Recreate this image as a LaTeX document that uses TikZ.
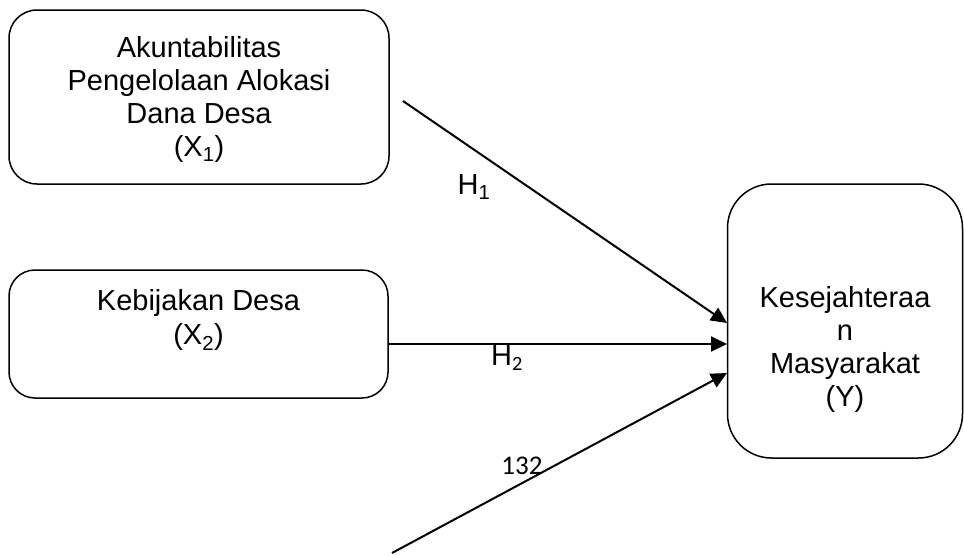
\documentclass[tikz,border=0pt]{standalone}
\usepackage{fontspec}
\setmainfont{Liberation Sans}
\newfontfamily\carl{Carlito}
\usetikzlibrary{arrows.meta}
\begin{document}
\begin{tikzpicture}[x=1pt,y=-1pt,
  box/.style={draw, line width=1.5pt, rounded corners=#1, inner sep=0, outer sep=0},
  txt/.style={font=\fontsize{29}{33}\selectfont, align=center, inner sep=0},
  hlbl/.style={font=\fontsize{29}{33}\selectfont, inner sep=0},
  arr/.style={line width=2pt, -{Triangle[length=16pt,width=15pt]}}]
\useasboundingbox (0,0) rectangle (964,555);
% boxes
\node[box=28pt, minimum width=380pt, minimum height=174pt] (X1) at (199,97) {};
\node[box=26pt, minimum width=379pt, minimum height=128pt] (X2) at (198.5,334) {};
\node[box=44pt, minimum width=235pt, minimum height=274pt] (Y) at (845,321) {};
% texts
\node[txt] (t1) at (199,99) {Akuntabilitas\\Pengelolaan Alokasi\\Dana Desa\\(X\textsubscript{1})};
\node[txt] (t2) at (198.5,320) {Kebijakan Desa\\[1pt](X\textsubscript{2})};
\node[txt] (t3) at (845,349) {Kesejahteraa\\n\\Masyarakat\\(Y)};
% arrow coordinates
\coordinate (a1s) at (403,101);
\coordinate (a1e) at (727,323);
\coordinate (a2s) at (389,344);
\coordinate (a2e) at (727,344);
\coordinate (a3s) at (392,553);
\coordinate (a3e) at (727,373);
\draw[arr] (a1s) -- (a1e);
\draw[arr] (a2s) -- (a2e);
\draw[arr] (a3s) -- (a3e);
% labels
\node[hlbl] (h1) at (474,187) {H\textsubscript{1}};
\node[hlbl] (h2) at (507,358) {H\textsubscript{\carl 2}};
\node[inner sep=0, font=\carl\fontsize{27}{30}\selectfont] (n132) at (522,466) {132};
\end{tikzpicture}
\end{document}
